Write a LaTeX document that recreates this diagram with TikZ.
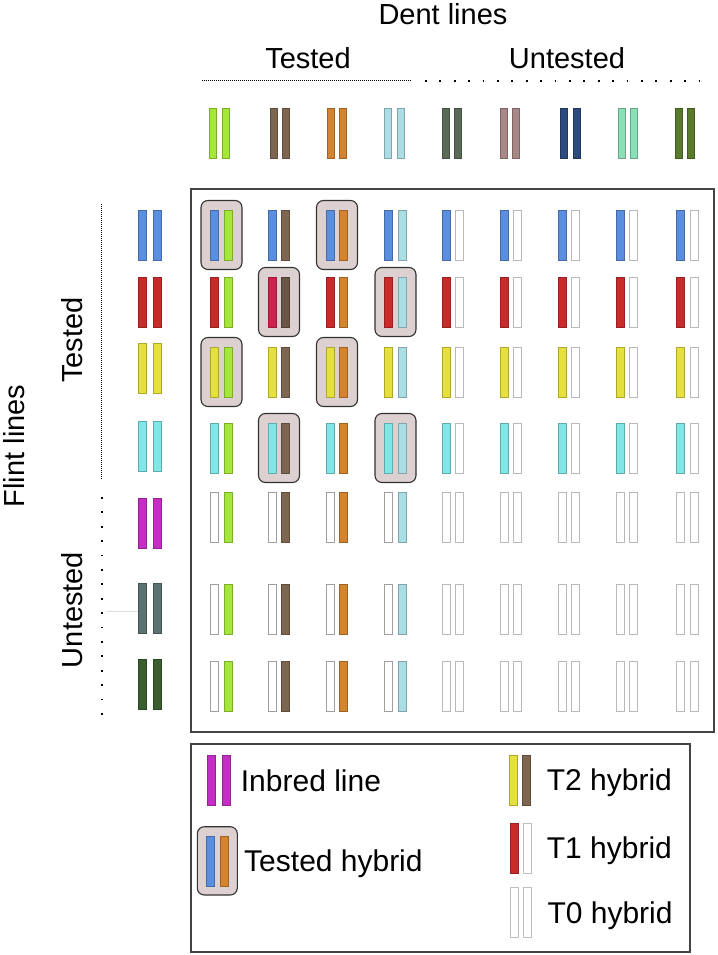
\documentclass[tikz,border=0pt]{standalone}
\usepackage{fontspec}
\setmainfont{Liberation Sans}
% dent colours
\definecolor{dA}{HTML}{A5E63B}
\definecolor{dB}{HTML}{7D6550}
\definecolor{dC}{HTML}{D4832F}
\definecolor{dD}{HTML}{ABDDE4}
\definecolor{dE}{HTML}{5B6A57}
\definecolor{dF}{HTML}{A88787}
\definecolor{dG}{HTML}{2C4A7E}
\definecolor{dH}{HTML}{8ADFB6}
\definecolor{dI}{HTML}{5A7A2B}
% flint colours
\definecolor{fA}{HTML}{5A8FE0}
\definecolor{fB}{HTML}{C92A2A}
\definecolor{fC}{HTML}{E6E03C}
\definecolor{fD}{HTML}{80E6E6}
\definecolor{fE}{HTML}{C42EC4}
\definecolor{fF}{HTML}{5B7370}
\definecolor{fG}{HTML}{3B5E30}
\definecolor{crim}{HTML}{D2204E}
\definecolor{hlfill}{HTML}{DDD0D0}
\definecolor{hledge}{HTML}{333333}
\definecolor{boxedge}{HTML}{444444}
\newcommand{\onebar}[5]{% x, y, width, height, colour
  \filldraw[fill=#5,draw=#5!75!black,line width=0.6pt]
    ({#1-#3/2},{#2-#4/2}) rectangle ({#1+#3/2},{#2+#4/2});}
\newcommand{\whitebar}[5]{% x, y, width, height, edge colour
  \filldraw[fill=white,draw=#5,line width=0.8pt]
    ({#1-#3/2},{#2-#4/2}) rectangle ({#1+#3/2},{#2+#4/2});}
\newcommand{\hlbox}[2]{%
  \filldraw[fill=hlfill,draw=hledge,line width=1.1pt,rounded corners=7pt]
    ({#1-20.5},{#2-34.5}) rectangle ({#1+20.5},{#2+34.5});}
\tikzset{
  bigtxt/.style={font=\fontsize{29}{34}\selectfont,inner sep=0pt},
  legtxt/.style={font=\fontsize{30}{35}\selectfont,inner sep=0pt,anchor=base west},
  densedot/.style={line width=1.3pt,dash pattern=on 1pt off 1pt,black},
  sparsedot/.style={line width=1.8pt,dash pattern=on 1.8pt off 12.6pt,black},
  frame/.style={draw=boxedge,line width=1.4pt}
}
\begin{document}
\begin{tikzpicture}[x=1pt,y=-1pt]
\useasboundingbox (0,0) rectangle (717,955);
\fill[white] (0,0) rectangle (717,955);

% titles
\node[bigtxt,anchor=base] (dent) at (443,25) {Dent lines};
\node[bigtxt,anchor=base] (dtested) at (308,69) {Tested};
\node[bigtxt,anchor=base] (duntested) at (567,69) {Untested};
\node[bigtxt,anchor=base,rotate=90] (flint) at (24,446) {Flint lines};
\node[bigtxt,anchor=base,rotate=90] (ftested) at (82,340) {Tested};
\node[bigtxt,anchor=base,rotate=90] (funtested) at (82,610) {Untested};

% dotted guide lines
\draw[densedot] (201.7,80.7) -- (411.7,80.7);
\draw[sparsedot] (425,80.7) -- (700,80.7);
\draw[densedot] (101.7,204) -- (101.7,479);
\draw[sparsedot] (101.7,497) -- (101.7,718);
\draw[gray!25,line width=0.6pt] (106,611) -- (138,611);

% dent header bars
\foreach \cx/\c in {219.5/dA,280/dB,337/dC,394.5/dD,452/dE,510/dF,570.5/dG,628/dH,685/dI}{
  \onebar{\cx-6.25}{133.5}{7}{50}{\c}
  \onebar{\cx+6.25}{133.5}{7}{50}{\c}
}

% flint side bars
\foreach \cy/\c in {235/fA,302/fB,368/fC,446/fD,523/fE,608/fF,684/fG}{
  \onebar{142.2}{\cy}{7.7}{50}{\c}
  \onebar{157.2}{\cy}{7.7}{50}{\c}
}

% main frame
\draw[frame] (191,189) rectangle (714,732);

% highlight boxes
\hlbox{221.5}{235}
\hlbox{337}{235}
\hlbox{279}{302}
\hlbox{395.5}{302}
\hlbox{221.5}{372}
\hlbox{337}{372}
\hlbox{279}{448}
\hlbox{395.5}{448}

% grid: tested flint rows
\foreach \cy/\fc in {235/fA,302/fB,372/fC,448/fD}{
  \foreach \cx/\dc in {221.5/dA,279/dB,337/dC,395.5/dD}{
    \onebar{\cx-6.75}{\cy}{8}{50}{\fc}
    \onebar{\cx+6.75}{\cy}{8}{50}{\dc}
  }
  \foreach \cx in {453,511,569,627,687.5}{
    \onebar{\cx-6.75}{\cy}{8}{50}{\fc}
    \whitebar{\cx+6.75}{\cy}{8}{50}{gray!55}
  }
}
% special crimson bar in highlighted cell (row 2, col 2)
\onebar{272.25}{302}{8}{50}{crim}
\onebar{285.75}{302}{8}{50}{dB!85!black}

% grid: untested flint rows
\foreach \cy in {517,609,686}{
  \foreach \cx/\dc in {221.5/dA,279/dB,337/dC,395.5/dD}{
    \whitebar{\cx-6.75}{\cy}{8}{50}{gray!75}
    \onebar{\cx+6.75}{\cy}{8}{50}{\dc}
  }
  \foreach \cx in {453,511,569,627,687.5}{
    \whitebar{\cx-6.75}{\cy}{8}{50}{gray!55}
    \whitebar{\cx+6.75}{\cy}{8}{50}{gray!55}
  }
}

% legend
\draw[frame] (191,744) rectangle (690,952);
\onebar{211.3}{780}{8.7}{50}{fE}
\onebar{226.3}{780}{8.7}{50}{fE}
\node[legtxt] (linbred) at (240.7,791) {Inbred line};

\filldraw[fill=hlfill,draw=hledge,line width=1.1pt,rounded corners=7pt]
  (197.3,826.7) rectangle (237.3,895);
\onebar{210.7}{861.5}{8}{50}{fA}
\onebar{224}{861.5}{8}{50}{dC}
\node[legtxt] (ltested) at (244,871.7) {Tested hybrid};

\onebar{513.3}{780.4}{8}{50}{fC}
\onebar{526.7}{780.4}{8}{50}{dB}
\node[legtxt] (lt2) at (546.7,790.7) {T2 hybrid};

\onebar{514.2}{848}{8.3}{50}{fB}
\whitebar{527.2}{848}{8.3}{50}{gray!50}
\node[legtxt] (lt1) at (546.7,858.3) {T1 hybrid};

\whitebar{514.2}{912.7}{8.3}{50}{gray!50}
\whitebar{527.2}{912.7}{8.3}{50}{gray!50}
\node[legtxt] (lt0) at (547.3,923.3) {T0 hybrid};
\end{tikzpicture}
\end{document}
